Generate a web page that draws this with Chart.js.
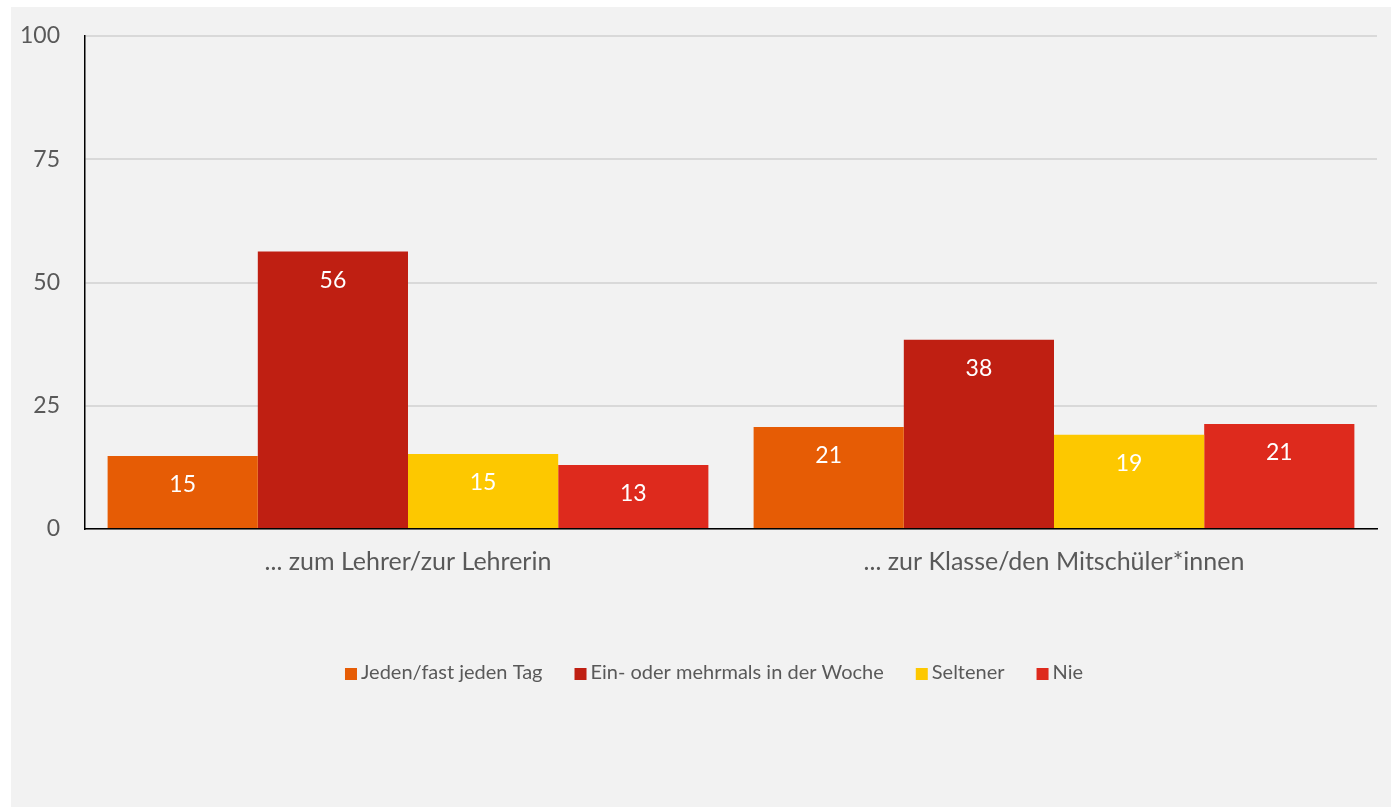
<!DOCTYPE html>
<html>
<head>
<meta charset="utf-8">
<script src="https://cdn.jsdelivr.net/npm/chart.js@4/dist/chart.umd.min.js"></script>
<style>
  html, body { margin: 0; padding: 0; background: #ffffff; }
  #wrap { position: absolute; left: 11px; top: 7px; width: 1380px; height: 800px; background: #f2f2f2; }
</style>
</head>
<body>
<div id="wrap"><canvas id="c"></canvas></div>
<script>
const categories = ["... zum Lehrer/zur Lehrerin", "... zur Klasse/den Mitschüler*innen"];
const seriesNames = ["Jeden/fast jeden Tag", "Ein- oder mehrmals in der Woche", "Seltener", "Nie"];
const jedenTag = [14.8, 20.7];
const woche = [56.3, 38.4];
const seltener = [15.2, 19.1];
const nie = [13.0, 21.3];
const yTicks = [0, 25, 50, 75, 100];
const colors = ["#E65C05", "#BF1F12", "#FDC800", "#DE2A1D"];

const FONT = "Lato, 'Open Sans', sans-serif";
const values = [jedenTag, woche, seltener, nie];

const dataLabels = {
  id: 'dataLabels',
  afterDatasetsDraw(chart) {
    const ctx = chart.ctx;
    ctx.save();
    ctx.fillStyle = '#ffffff';
    ctx.font = '23px ' + FONT;
    ctx.textAlign = 'center';
    ctx.textBaseline = 'middle';
    chart.data.datasets.forEach((ds, i) => {
      chart.getDatasetMeta(i).data.forEach((el, j) => {
        ctx.fillText(String(Math.round(ds.data[j])), el.x, el.y + 29);
      });
    });
    ctx.restore();
  }
};

// legend drawn below the axis, from the dataset labels and colours
const bottomLegend = {
  id: 'bottomLegend',
  afterDraw(chart) {
    const ctx = chart.ctx;
    const box = 12, gap = 4, spacing = 32;
    const cy = 666;
    ctx.save();
    ctx.font = '20px ' + FONT;
    ctx.textBaseline = 'middle';
    ctx.textAlign = 'left';
    const items = chart.data.datasets.map(ds => ({
      text: ds.label, color: ds.backgroundColor, w: box + gap + ctx.measureText(ds.label).width
    }));
    const total = items.reduce((s, it) => s + it.w, 0) + spacing * (items.length - 1);
    let x = 703 - total / 2;
    items.forEach(it => {
      ctx.fillStyle = it.color;
      ctx.fillRect(x, cy - box / 2 + 1, box, box);
      ctx.fillStyle = '#595959';
      ctx.fillText(it.text, x + box + gap, cy);
      x += it.w + spacing;
    });
    ctx.restore();
  }
};

new Chart(document.getElementById('c'), {
  type: 'bar',
  data: {
    labels: categories,
    datasets: seriesNames.map((n, i) => ({
      label: n,
      data: values[i],
      backgroundColor: colors[i],
      borderWidth: 0,
      categoryPercentage: 0.93,
      barPercentage: 1.0
    }))
  },
  plugins: [dataLabels, bottomLegend],
  options: {
    responsive: true,
    maintainAspectRatio: false,
    animation: false,
    layout: { padding: { left: 0, right: 14, top: 29, bottom: 218 } },
    plugins: {
      tooltip: { enabled: false },
      legend: { display: false }
    },
    scales: {
      x: {
        grid: { display: false, drawTicks: false },
        border: { display: true, color: '#000000', width: 1.5 },
        ticks: { color: '#595959', font: { family: FONT, size: 25 }, padding: 18 },
        afterFit(s) { s.height = 60; }
      },
      y: {
        min: 0, max: 100,
        afterBuildTicks(s) { s.ticks = yTicks.map(v => ({ value: v })); },
        grid: { color: '#d9d9d9', lineWidth: 2, drawTicks: true, tickLength: 25, tickColor: 'rgba(0,0,0,0)' },
        border: { display: true, color: '#000000', width: 1.5 },
        ticks: { color: '#595959', font: { family: FONT, size: 23 }, padding: 0 },
        afterFit(s) { s.width = 74; }
      }
    }
  }
});
</script>
</body>
</html>
